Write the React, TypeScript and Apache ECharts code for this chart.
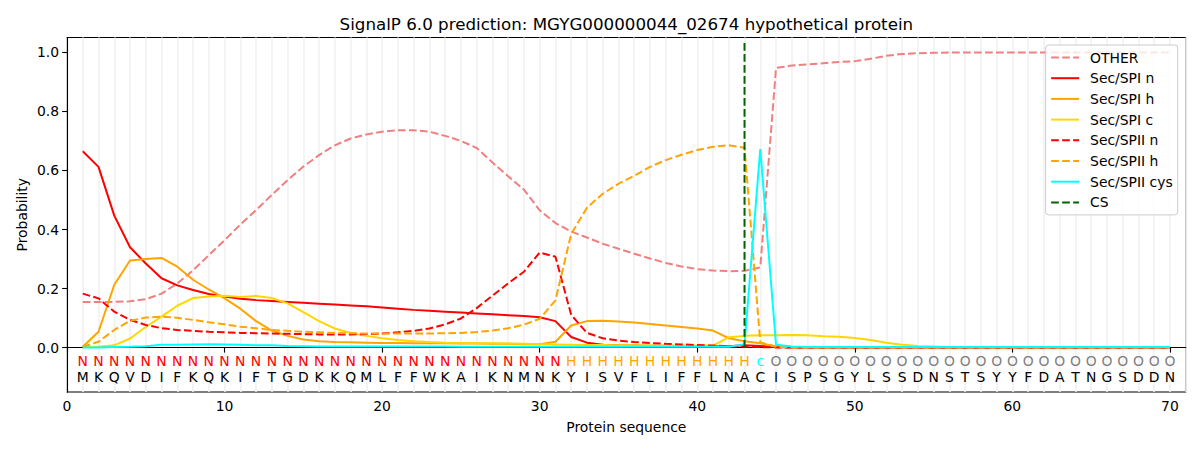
import React, { useEffect, useRef } from "react";
import * as echarts from "echarts";

const TITLE = "SignalP 6.0 prediction: MGYG000000044_02674 hypothetical protein";
const X_NAME = "Protein sequence";
const Y_NAME = "Probability";

const SEQUENCE = "MKQVDIFKQKIFTGDKKQMLFFWKAIKNMNKYISVFLIFFLNACISPSGYLSSDNSTSYYFDATNGSDDN".split("");
const REGIONS = ("N".repeat(31) + "H".repeat(12) + "c" + "O".repeat(26)).split("");
const REGION_COLORS: Record<string, string> = { N: "#ff0000", H: "#ffa500", c: "#00ffff", O: "#808080" };

const X_TICKS = [0, 10, 20, 30, 40, 50, 60, 70];
const Y_TICKS = [0, 0.2, 0.4, 0.6, 0.8, 1.0];

const OTHER = [
  0.155, 0.155, 0.155, 0.157, 0.164, 0.183, 0.217, 0.262, 0.313, 0.364,
  0.417, 0.466, 0.517, 0.567, 0.613, 0.652, 0.685, 0.708, 0.722, 0.731,
  0.736, 0.736, 0.731, 0.717, 0.700, 0.676, 0.627, 0.580, 0.535, 0.465,
  0.422, 0.393, 0.373, 0.352, 0.335, 0.318, 0.302, 0.287, 0.275, 0.266,
  0.261, 0.259, 0.260, 0.272, 0.947, 0.955, 0.959, 0.963, 0.967, 0.970,
  0.978, 0.988, 0.994, 0.997, 0.998, 0.999, 0.999, 0.999, 0.999, 0.999,
  0.999, 0.999, 0.999, 0.999, 0.999, 0.999, 0.999, 0.999, 0.999, 0.999,
];
const SPI_N = [
  0.665, 0.612, 0.447, 0.340, 0.285, 0.235, 0.211, 0.195, 0.182, 0.173,
  0.166, 0.161, 0.158, 0.155, 0.152, 0.149, 0.146, 0.143, 0.140, 0.136,
  0.132, 0.128, 0.125, 0.122, 0.119, 0.116, 0.113, 0.110, 0.107, 0.103,
  0.090, 0.036, 0.017, 0.010, 0.008, 0.007, 0.006, 0.006, 0.005, 0.005,
  0.005, 0.005, 0.008, 0.006, 0.002, 0.001, 0.001, 0.001, 0.001, 0.001,
  0.001, 0.001, 0.001, 0.001, 0.001, 0.001, 0.001, 0.001, 0.001, 0.001,
  0.001, 0.001, 0.001, 0.001, 0.001, 0.001, 0.001, 0.001, 0.001, 0.001,
];
const SPI_H = [
  0.003, 0.054, 0.213, 0.295, 0.300, 0.304, 0.274, 0.230, 0.197, 0.167,
  0.132, 0.090, 0.058, 0.040, 0.028, 0.022, 0.019, 0.018, 0.017, 0.016,
  0.016, 0.015, 0.015, 0.015, 0.014, 0.014, 0.013, 0.013, 0.012, 0.012,
  0.020, 0.075, 0.090, 0.091, 0.089, 0.085, 0.080, 0.075, 0.070, 0.065,
  0.058, 0.032, 0.022, 0.015, 0.004, 0.002, 0.002, 0.002, 0.002, 0.002,
  0.002, 0.002, 0.002, 0.002, 0.002, 0.002, 0.002, 0.002, 0.002, 0.002,
  0.002, 0.002, 0.002, 0.002, 0.002, 0.002, 0.002, 0.002, 0.002, 0.002,
];
const SPI_C = [
  0.002, 0.003, 0.008, 0.031, 0.070, 0.105, 0.142, 0.168, 0.173, 0.176,
  0.172, 0.175, 0.168, 0.150, 0.120, 0.090, 0.065, 0.050, 0.040, 0.032,
  0.026, 0.022, 0.019, 0.017, 0.016, 0.015, 0.015, 0.014, 0.013, 0.012,
  0.011, 0.010, 0.009, 0.009, 0.008, 0.008, 0.008, 0.007, 0.007, 0.007,
  0.007, 0.035, 0.040, 0.042, 0.042, 0.043, 0.042, 0.039, 0.037, 0.033,
  0.026, 0.017, 0.010, 0.006, 0.004, 0.002, 0.002, 0.002, 0.002, 0.002,
  0.002, 0.002, 0.002, 0.002, 0.002, 0.002, 0.002, 0.002, 0.002, 0.002,
];
const SPII_N = [
  0.183, 0.167, 0.122, 0.094, 0.077, 0.066, 0.060, 0.057, 0.054, 0.052,
  0.050, 0.049, 0.048, 0.047, 0.046, 0.045, 0.045, 0.045, 0.046, 0.048,
  0.052, 0.057, 0.065, 0.079, 0.099, 0.134, 0.176, 0.218, 0.257, 0.322,
  0.308, 0.111, 0.050, 0.032, 0.024, 0.019, 0.016, 0.013, 0.011, 0.009,
  0.007, 0.005, 0.004, 0.002, 0.001, 0.001, 0.001, 0.001, 0.001, 0.001,
  0.001, 0.001, 0.001, 0.001, 0.001, 0.001, 0.001, 0.001, 0.001, 0.001,
  0.001, 0.001, 0.001, 0.001, 0.001, 0.001, 0.001, 0.001, 0.001, 0.001,
];
const SPII_H = [
  0.003, 0.020, 0.060, 0.091, 0.102, 0.105, 0.101, 0.094, 0.086, 0.079,
  0.071, 0.066, 0.060, 0.057, 0.054, 0.052, 0.050, 0.049, 0.048, 0.048,
  0.048, 0.048, 0.048, 0.049, 0.050, 0.053, 0.058, 0.066, 0.078, 0.098,
  0.160, 0.385, 0.474, 0.521, 0.555, 0.582, 0.612, 0.635, 0.653, 0.669,
  0.680, 0.685, 0.677, 0.018, 0.003, 0.001, 0.001, 0.001, 0.001, 0.001,
  0.001, 0.001, 0.001, 0.001, 0.001, 0.001, 0.001, 0.001, 0.001, 0.001,
  0.001, 0.001, 0.001, 0.001, 0.001, 0.001, 0.001, 0.001, 0.001, 0.001,
];
const SPII_CYS = [
  0.001, 0.001, 0.002, 0.003, 0.005, 0.010, 0.010, 0.011, 0.012, 0.011,
  0.010, 0.008, 0.008, 0.006, 0.005, 0.004, 0.004, 0.004, 0.004, 0.004,
  0.004, 0.004, 0.004, 0.004, 0.003, 0.003, 0.003, 0.003, 0.003, 0.003,
  0.003, 0.003, 0.003, 0.003, 0.003, 0.003, 0.003, 0.003, 0.003, 0.003,
  0.003, 0.003, 0.012, 0.672, 0.010, 0.004, 0.002, 0.002, 0.002, 0.002,
  0.002, 0.002, 0.002, 0.002, 0.002, 0.002, 0.002, 0.002, 0.002, 0.002,
  0.002, 0.002, 0.002, 0.002, 0.002, 0.002, 0.002, 0.002, 0.002, 0.002,
];
const CS_POSITION = 43;
const CS_SPAN = [0, 1.04];

const FONT = "DejaVu Sans";
const FS = 13.9;
const DASH = [7.7, 3.3];
const LETTER_ROW_Y = [-0.0464, -0.0997];

const GRID = { left: 67, right: 14.3, top: 37.5, bottom: 58 };

const SERIES_DEFS = [
  { name: "OTHER", data: OTHER, color: "#f08080", dashed: true },
  { name: "Sec/SPI n", data: SPI_N, color: "#ff0000", dashed: false },
  { name: "Sec/SPI h", data: SPI_H, color: "#ffa500", dashed: false },
  { name: "Sec/SPI c", data: SPI_C, color: "#ffd700", dashed: false },
  { name: "Sec/SPII n", data: SPII_N, color: "#ff0000", dashed: true },
  { name: "Sec/SPII h", data: SPII_H, color: "#ffa500", dashed: true },
  { name: "Sec/SPII cys", data: SPII_CYS, color: "#00ffff", dashed: false },
];

export default function App() {
  const ref = useRef<HTMLDivElement>(null);
  useEffect(() => {
    if (!ref.current) return;
    document.body.style.margin = "0";
    const chart = echarts.init(ref.current, undefined, { renderer: "svg" });
    const lineSeries: any[] = SERIES_DEFS.map((s) => ({
      name: s.name,
      type: "line",
      data: s.data.map((v, i) => [i + 1, v]),
      symbol: "none",
      showSymbol: false,
      lineStyle: { color: s.color, width: 2, type: s.dashed ? DASH : "solid" },
      itemStyle: { color: s.color },
    }));
    lineSeries.push({
      name: "CS",
      type: "line",
      data: CS_SPAN.map((v) => [CS_POSITION, v]),
      symbol: "none",
      showSymbol: false,
      lineStyle: { color: "#006400", width: 2, type: DASH },
      itemStyle: { color: "#006400" },
    });
    const letterSeries = (row: number) => ({
      type: "custom",
      data: SEQUENCE.map((_, i) => [i + 1]),
      silent: true,
      renderItem: (params: any, api: any) => {
        const x = api.value(0);
        const p = api.coord([x, LETTER_ROW_Y[row]]);
        const idx = params.dataIndex;
        const txt = row === 0 ? REGIONS[idx] : SEQUENCE[idx];
        const col = row === 0 ? REGION_COLORS[txt] : "#000000";
        return {
          type: "text",
          x: p[0],
          y: p[1],
          style: {
            text: txt,
            fill: col,
            fontFamily: FONT,
            fontSize: FS,
            align: "center",
            verticalAlign: "middle",
          },
        };
      },
    });
    const plotCenterX = GRID.left + (1200 - GRID.left - GRID.right) / 2;
    const plotCenterY = GRID.top + (450 - GRID.top - GRID.bottom) / 2;
    chart.setOption({
      animation: false,
      textStyle: { fontFamily: FONT },
      grid: { ...GRID, show: true, borderColor: "#000", borderWidth: 1.1, containLabel: false },
      xAxis: [
        {
          type: "value",
          min: 0,
          max: 71,
          axisLine: { show: true, lineStyle: { color: "#000", width: 1.1 } },
          axisTick: { show: true, length: 4.9, lineStyle: { color: "#000", width: 1.1 }, customValues: X_TICKS },
          axisLabel: { show: true, color: "#000", fontSize: FS, fontFamily: FONT, margin: 7, customValues: X_TICKS },
          splitLine: { show: false },
        },
        {
          type: "value",
          min: 0,
          max: 71,
          interval: 1,
          position: "top",
          axisLine: { show: false },
          axisTick: { show: false },
          axisLabel: { show: false },
          splitLine: { show: true, lineStyle: { color: "#f1f1f1", width: 1.6 } },
        },
      ],
      yAxis: [
        {
          type: "value",
          min: -0.15,
          max: 1.05,
          axisLine: { show: true, lineStyle: { color: "#000", width: 1.1 } },
          axisTick: { show: true, length: 4.9, lineStyle: { color: "#000", width: 1.1 }, customValues: Y_TICKS },
          axisLabel: {
            show: true,
            color: "#000",
            fontSize: FS,
            fontFamily: FONT,
            margin: 8,
            customValues: Y_TICKS,
            formatter: (v: number) => v.toFixed(1),
          },
          splitLine: { show: false },
        },
      ],
      legend: {
        data: [...SERIES_DEFS.map((s) => s.name), "CS"],
        orient: "vertical",
        right: 22.3,
        top: 45,
        itemWidth: 28,
        itemHeight: 14,
        itemGap: 6.7,
        padding: [5.5, 5, 5.5, 4.5],
        backgroundColor: "rgba(255,255,255,0.8)",
        borderColor: "#cccccc",
        borderWidth: 1,
        borderRadius: 3,
        itemStyle: { opacity: 0 },
        textStyle: { color: "#000", fontSize: FS, fontFamily: FONT, padding: [0, 0, 0, 6] },
        selectedMode: false,
      },
      graphic: [
        {
          type: "text",
          x: plotCenterX,
          y: 23.5,
          style: { text: TITLE, fill: "#000", fontFamily: FONT, fontSize: 16.7, align: "center", verticalAlign: "middle" },
        },
        {
          type: "text",
          x: plotCenterX,
          y: 427,
          style: { text: X_NAME, fill: "#000", fontFamily: FONT, fontSize: FS, align: "center", verticalAlign: "middle" },
        },
        {
          type: "text",
          x: 21.7,
          y: plotCenterY,
          rotation: Math.PI / 2,
          style: { text: Y_NAME, fill: "#000", fontFamily: FONT, fontSize: FS, align: "center", verticalAlign: "middle" },
        },
      ],
      series: [...lineSeries, letterSeries(0), letterSeries(1)],
    });
    return () => chart.dispose();
  }, []);
  return <div ref={ref} style={{ width: 1200, height: 450 }} />;
}
